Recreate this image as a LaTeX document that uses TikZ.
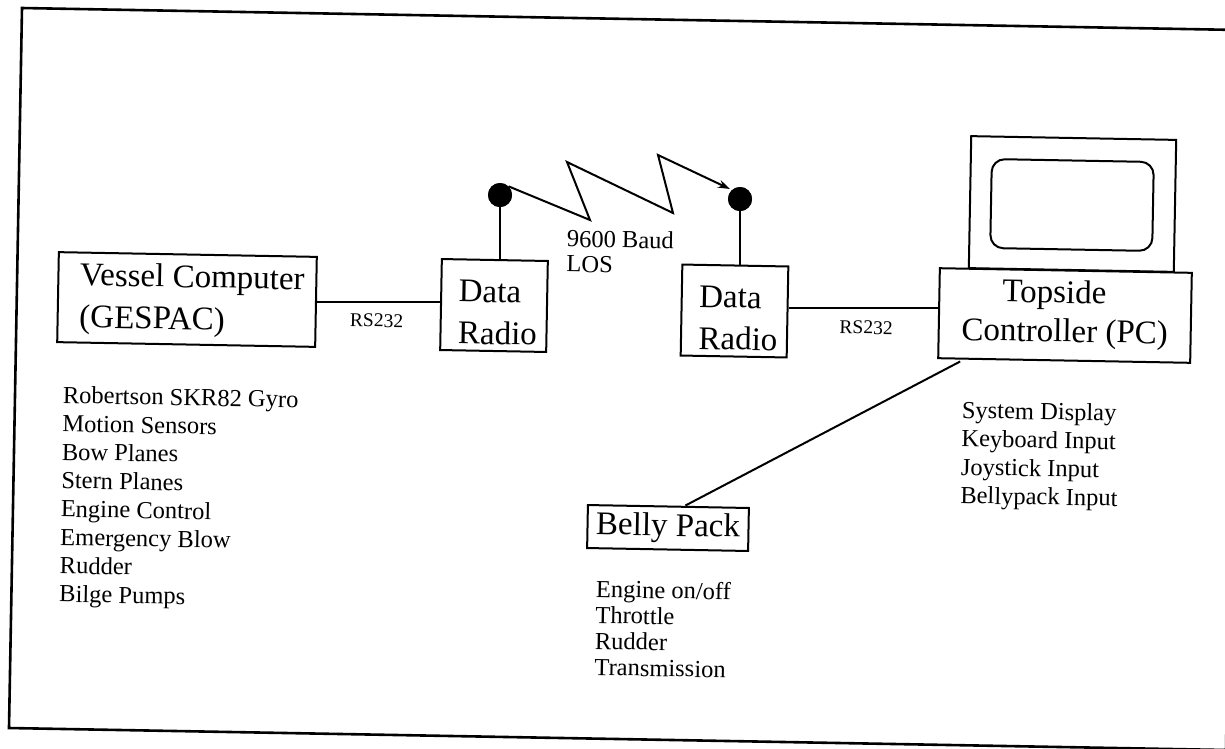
\documentclass[tikz,border=0pt]{standalone}
\usepackage{fontspec}
\setmainfont{Liberation Serif}
\usetikzlibrary{calc,arrows.meta}
\begin{document}
\begin{tikzpicture}[x=1pt,y=-1pt,
  tilt/.style={rotate=-1.05},
  box/.style={draw, line width=2pt, inner sep=0pt, fill=white, tilt},
  big/.style={font=\fontsize{33}{42}\selectfont},
  small/.style={font=\fontsize{24.5}{28.4}\selectfont},
  listtext/.style={small, anchor=north west, align=left, inner sep=0pt, tilt},
  rs/.style={font=\fontsize{19.5}{22}\selectfont, inner sep=0pt, anchor=base, tilt},
  dot/.style={circle, fill=black, inner sep=0pt, minimum size=24pt},
  conn/.style={line width=2pt},
  frame/.style={line width=2.6pt}
]
\fill[white] (0,0) rectangle (1225,748);
\useasboundingbox (0,0) rectangle (1225,748);

% outer frame (scanned, slightly tilted)
\draw[frame] (22,8) -- (1239,30) -- (1226,750) -- (9,728) -- cycle;

% vessel computer
\node[box, big, align=left, minimum width=258pt, minimum height=90pt] (vessel) at (187,299.5)
  {\rule{0pt}{26pt}\hspace*{10pt}Vessel Computer\\\hspace*{10pt}(GESPAC)\rule[-8pt]{0pt}{8pt}};

% data radios
\node[box, big, align=left, minimum width=106pt, minimum height=91pt] (radio1) at (494,305.5)
  {\rule{0pt}{36pt}\hspace*{8pt}Data\\\hspace*{8pt}Radio};
\node[box, big, align=left, minimum width=106pt, minimum height=91pt] (radio2) at (734.5,311)
  {\rule{0pt}{36pt}\hspace*{8pt}Data\\\hspace*{8pt}Radio};

% monitor and screen
\node[box, minimum width=205pt, minimum height=132pt] (monitor) at (1072.5,204) {};
\node[draw, line width=2pt, rounded corners=13pt, inner sep=0pt, tilt,
      minimum width=162pt, minimum height=89pt] (screen) at (1072,205) {};

% topside controller
\node[box, align=center, minimum width=252pt, minimum height=90pt,
      font=\fontsize{33}{39}\selectfont] (topside) at (1065,315.5)
  {\rule{0pt}{24pt}Topside\hspace*{22pt}\\Controller (PC)\rule[-10pt]{0pt}{10pt}};

% belly pack
\node[box, big, minimum width=161pt, minimum height=43pt] (belly) at (668,528) {Belly Pack};

% antennas
\node[dot] (dot1) at (500,195) {};
\node[dot] (dot2) at (740,199) {};
\draw[conn] (dot1.center) -- (dot1.center |- radio1.north);
\draw[conn] (dot2.center) -- (dot2.center |- radio2.north);
\node[dot] at (dot1) {};
\node[dot] at (dot2) {};

% radio link zigzag
\coordinate (zz1) at (590,220);
\coordinate (zz2) at (567,162);
\coordinate (zz3) at (673,213);
\coordinate (zz4) at (658,155);
\coordinate (zztip) at (730,189);
\draw[conn, -{Stealth[length=12pt,width=8pt]}] (dot1.north east) -- (zz1) -- (zz2) -- (zz3) -- (zz4) -- (zztip);

% connectors
\draw[conn] (vessel.east) -- (vessel.east -| radio1.west);
\draw[conn] ([yshift=4pt]radio2.east) -- ([yshift=4pt]radio2.east -| topside.west);
\draw[conn] ([xshift=17pt]belly.north) -- ([xshift=-104pt]topside.south);

% labels
\node[rs] (rs1) at (376.5,327) {RS232};
\node[rs] (rs2) at (866,334) {RS232};
\node[listtext, font=\fontsize{24.5}{25}\selectfont] (baud) at (567,226.7)
  {\rule{0pt}{20pt}9600 Baud\\LOS};

% lists
\node[listtext] (vlist) at (63,383)
  {\rule{0pt}{20pt}Robertson SKR82 Gyro\\Motion Sensors\\Bow Planes\\Stern Planes\\Engine Control\\Emergency Blow\\Rudder\\Bilge Pumps};
\node[listtext] (tlist) at (962,398)
  {\rule{0pt}{20pt}System Display\\Keyboard Input\\Joystick Input\\Bellypack Input};
\node[listtext, font=\fontsize{24.5}{26}\selectfont] (blist) at (596,577)
  {\rule{0pt}{20pt}Engine on/off\\Throttle\\Rudder\\Transmission};
\end{tikzpicture}
\end{document}
